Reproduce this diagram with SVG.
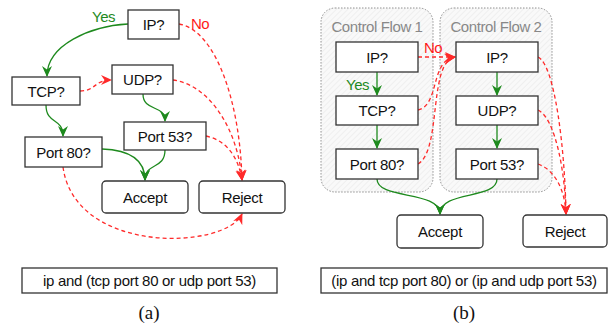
<svg xmlns="http://www.w3.org/2000/svg" width="608" height="324" viewBox="0 0 608 324">
<defs>
<style>
.box{fill:#fff;stroke:#333;stroke-width:1.3}
.term{fill:#fff;stroke:#333;stroke-width:1.3}
.t{font-family:"Liberation Sans",Arial,sans-serif;font-size:15px;letter-spacing:-0.3px;fill:#111;text-anchor:middle}
.cf{font-family:"Liberation Sans",Arial,sans-serif;font-size:15px;letter-spacing:-0.4px;fill:#888;text-anchor:middle}
.lblg{font-family:"Liberation Sans",Arial,sans-serif;font-size:15px;letter-spacing:-0.5px;fill:#1e8a1e}
.lblr{font-family:"Liberation Sans",Arial,sans-serif;font-size:15px;letter-spacing:-0.5px;fill:#ff1a1a}
.cap{font-family:"Liberation Serif","Times New Roman",serif;font-size:19px;fill:#111;text-anchor:middle}
.g{fill:none;stroke:#1e8a1e;stroke-width:1.3;marker-end:url(#ag)}
.r{fill:none;stroke:#ff2a2a;stroke-width:1.3;stroke-dasharray:4,3;marker-end:url(#ar)}
.cont{fill:url(#hatch);stroke:#777;stroke-width:0.8;stroke-dasharray:1.5,1.5}
</style>
<marker id="ag" markerUnits="userSpaceOnUse" markerWidth="12" markerHeight="12" refX="10" refY="6" orient="auto" viewBox="0 0 12 12">
<path d="M0,1 L11,6 L0,11 L3.5,6 z" fill="#1e8a1e"/>
</marker>
<marker id="ar" markerUnits="userSpaceOnUse" markerWidth="12" markerHeight="12" refX="10" refY="6" orient="auto" viewBox="0 0 12 12">
<path d="M0,1 L11,6 L0,11 L3.5,6 z" fill="#ff2a2a"/>
</marker>
<pattern id="hatch" patternUnits="userSpaceOnUse" width="4" height="4" patternTransform="rotate(45)">
<rect width="4" height="4" fill="#f9f9f9"/>
<line x1="0" y1="0" x2="0" y2="4" stroke="#e6e6e6" stroke-width="1"/>
</pattern>
</defs>

<g id="cf1">
<rect class="cont" x="321" y="8" width="112" height="184" rx="14"/>
<text class="cf" x="377" y="32">Control Flow 1</text>
</g>
<g id="cf2">
<rect class="cont" x="440" y="8" width="112" height="184" rx="14"/>
<text class="cf" x="496" y="32">Control Flow 2</text>
</g>

<g id="connectors">
<path class="g" d="M128,24 C90,26 47,45 47,76"/>
<path class="r" d="M179,24 C215,30 240,100 242,180"/>
<path class="r" d="M173,80 C210,85 238,130 242,180"/>
<path class="r" d="M206,136 C225,140 238,155 242,180"/>
<path class="r" d="M80,91 C96,91 94,80 111,80"/>
<path class="g" d="M46,105 C46,125 63,117 63,136"/>
<path class="g" d="M143,94 C143,112 165,104 165,121"/>
<path class="g" d="M102,149 C130,150 145,160 145,180"/>
<path class="g" d="M165,150 C165,170 145,162 145,180"/>
<path class="r" d="M63,167 C75,255 225,250 242,214"/>
<path class="g" d="M377,72 L377,95"/>
<path class="g" d="M377,125 L377,148"/>
<path class="g" d="M497,72 L497,95"/>
<path class="g" d="M497,125 L497,148"/>
<path class="r" d="M418,57 L455,57"/>
<path class="r" d="M418,110 C440,105 430,60 455,57"/>
<path class="r" d="M418,164 C442,150 428,62 455,57"/>
<path class="r" d="M538,57 C555,65 565,150 566,214"/>
<path class="r" d="M538,110 C555,118 565,170 566,214"/>
<path class="r" d="M538,164 C555,170 565,190 566,214"/>
<path class="g" d="M377,179 C377,200 440,190 440,214"/>
<path class="g" d="M497,179 C497,200 440,190 440,214"/>
</g>

<g id="labels">
<text class="lblg" x="92" y="22">Yes</text>
<text class="lblr" x="191" y="29">No</text>
<text class="lblg" x="346" y="90">Yes</text>
<text class="lblr" x="424" y="53">No</text>
</g>

<g id="a-ip"><rect class="box" x="128" y="10" width="51" height="29"/><text class="t" x="153.5" y="30">IP?</text></g>
<g id="a-udp"><rect class="box" x="112" y="65" width="61" height="29"/><text class="t" x="142.5" y="85">UDP?</text></g>
<g id="a-tcp"><rect class="box" x="12" y="77" width="68" height="28"/><text class="t" x="46" y="96.5">TCP?</text></g>
<g id="a-port53"><rect class="box" x="124" y="122" width="82" height="28"/><text class="t" x="165" y="141.5">Port 53?</text></g>
<g id="a-port80"><rect class="box" x="25" y="137" width="77" height="30"/><text class="t" x="63.5" y="157.5">Port 80?</text></g>
<g id="a-accept"><rect class="term" x="102" y="181" width="86" height="32" rx="4"/><text class="t" x="145" y="202.5">Accept</text></g>
<g id="a-reject"><rect class="term" x="199" y="181" width="86" height="32" rx="4"/><text class="t" x="242" y="202.5">Reject</text></g>
<g id="a-expr"><rect class="box" x="22" y="268" width="255" height="25"/><text class="t" x="149.5" y="286">ip and (tcp port 80 or udp port 53)</text></g>
<text class="cap" x="149" y="319">(a)</text>

<g id="b-ip1"><rect class="box" x="336" y="42" width="82" height="30"/><text class="t" x="377" y="62.5">IP?</text></g>
<g id="b-tcp"><rect class="box" x="336" y="96" width="82" height="29"/><text class="t" x="377" y="116">TCP?</text></g>
<g id="b-port80"><rect class="box" x="336" y="149" width="82" height="30"/><text class="t" x="377" y="169.5">Port 80?</text></g>
<g id="b-ip2"><rect class="box" x="456" y="42" width="82" height="30"/><text class="t" x="497" y="62.5">IP?</text></g>
<g id="b-udp"><rect class="box" x="456" y="96" width="82" height="29"/><text class="t" x="497" y="116">UDP?</text></g>
<g id="b-port53"><rect class="box" x="456" y="149" width="82" height="30"/><text class="t" x="497" y="169.5">Port 53?</text></g>
<g id="b-accept"><rect class="term" x="397" y="215" width="86" height="33" rx="4"/><text class="t" x="440" y="237">Accept</text></g>
<g id="b-reject"><rect class="term" x="523" y="215" width="84" height="32" rx="4"/><text class="t" x="565" y="236.5">Reject</text></g>
<g id="b-expr"><rect class="box" x="321" y="268" width="286" height="25"/><text class="t" x="464" y="286">(ip and tcp port 80) or (ip and udp port 53)</text></g>
<text class="cap" x="464" y="319">(b)</text>
</svg>
